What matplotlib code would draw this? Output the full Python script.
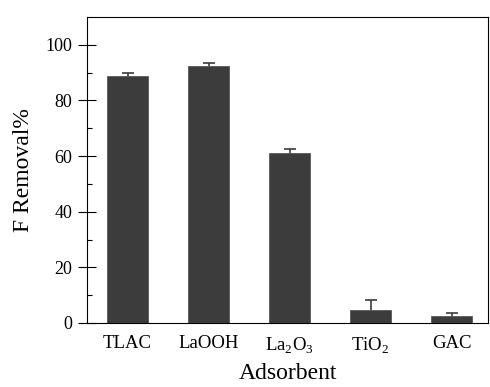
import numpy as np
import matplotlib.pyplot as plt

plt.rcParams['font.family'] = ['Liberation Serif', 'DejaVu Serif']
plt.rcParams['mathtext.fontset'] = 'custom'
plt.rcParams['mathtext.rm'] = 'Liberation Serif'

# data
labels = ['TLAC', 'LaOOH', 'La$_2$O$_3$', 'TiO$_2$', 'GAC']
removal = [88.9, 92.4, 61.0, 4.7, 2.6]
err = [1.1, 1.0, 1.5, 3.4, 0.9]

fig = plt.figure(figsize=(4.9, 3.87), dpi=100)
ax = fig.add_axes([0.1776, 0.1654, 0.8184, 0.7906])

x = np.arange(1, len(labels) + 1)
# error bars behind the bars so only the upper half shows
ax.errorbar(x, removal, yerr=err, fmt='none', ecolor='#3c3c3c', capsize=4,
            elinewidth=1.2, capthick=1.2, zorder=1)
ax.bar(x, removal, width=0.5, color='#3c3c3c', edgecolor='#5a5a5a', linewidth=0.6, zorder=2)

ax.set_xlim(0.5, 5.45)
ax.set_ylim(0, 110)
ax.set_xticks(x)
ax.set_xticklabels(labels, fontsize=13.5)
ax.tick_params(axis='x', length=0, pad=9)
ax.set_yticks(np.arange(0, 101, 20))
ax.set_yticks(np.arange(10, 101, 20), minor=True)
ax.tick_params(axis='y', which='major', direction='inout', length=13.5, width=0.8, labelsize=13, pad=4)
ax.tick_params(axis='y', which='minor', direction='in', length=3.6, width=0.8)
for s in ax.spines.values():
    s.set_linewidth(0.8)

ax.set_ylabel('F Removal%', fontsize=17, labelpad=8)
ax.set_xlabel('Adsorbent', fontsize=17, labelpad=5)

plt.savefig('out.png', dpi=100)
